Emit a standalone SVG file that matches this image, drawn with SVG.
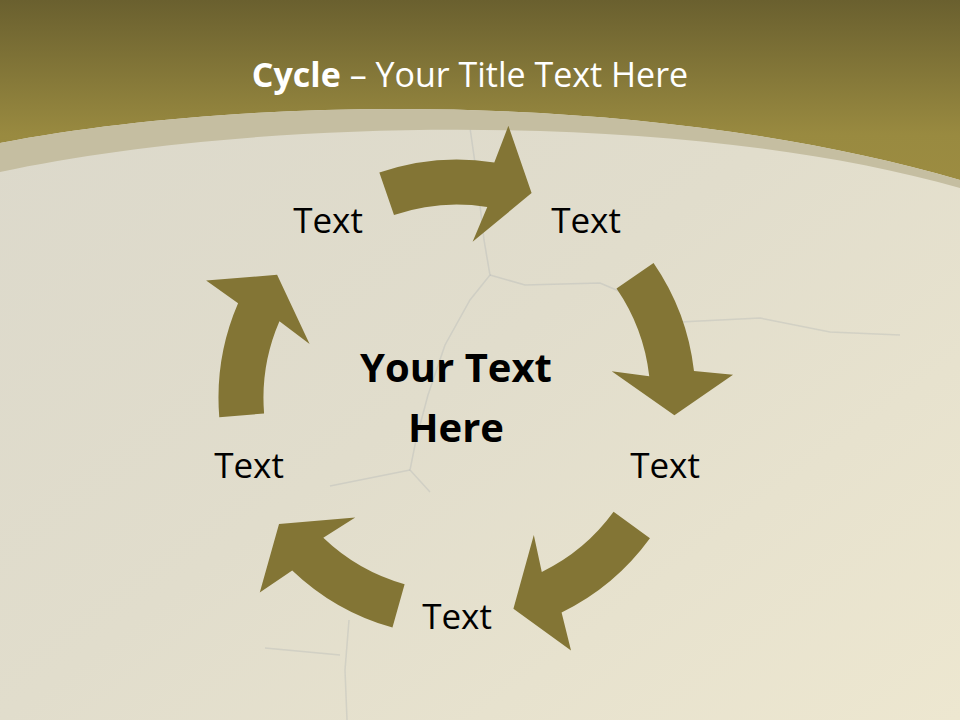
<svg xmlns="http://www.w3.org/2000/svg" width="960" height="720" viewBox="0 0 960 720">
<style>
.lbl{font-family:"Open Sans","Noto Sans",sans-serif;font-size:35px;fill:#000;text-anchor:middle}
.ctr{font-family:"Open Sans","Noto Sans",sans-serif;font-size:40px;font-weight:bold;fill:#000;text-anchor:middle}
.ttl{font-family:"Open Sans","Noto Sans",sans-serif;font-size:34px;fill:#fff;text-anchor:middle}
.arrow{fill:#837535}
.crack{fill:none;stroke:#9aa2ad;stroke-opacity:0.25;stroke-width:1.5}
</style>
<defs>
<linearGradient id="bg" x1="0" y1="0" x2="1" y2="1">
<stop offset="0" stop-color="#dbd8cb"/>
<stop offset="0.5" stop-color="#e1ddcc"/>
<stop offset="1" stop-color="#ede7d0"/>
</linearGradient>
<linearGradient id="hdr" gradientUnits="userSpaceOnUse" x1="0" y1="0" x2="0" y2="180">
<stop offset="0" stop-color="#6a602f"/>
<stop offset="0.75" stop-color="#998a40"/>
<stop offset="1" stop-color="#9c8c41"/>
</linearGradient>
<path id="arw" d="M379.35,172.5 A238.5,238.5 0 0 1 494.3,162.4 L508.4,125.8 L531.6,193.1 L472.6,241.8 L487.3,206.9 A193.5,193.5 0 0 0 394.0,215.0 Z"/>
</defs>
<rect x="0" y="0" width="960" height="720" fill="url(#bg)"/>
<g id="cracks">
<path class="crack" d="M470,128 L476,170 L484,240 L490,275 L470,300 L445,345 L428,395 L416,440 L410,470 L430,492"/>
<path class="crack" d="M490,275 L525,285 L600,283 L640,300"/>
<path class="crack" d="M680,322 L760,318 L830,332 L900,335"/>
<path class="crack" d="M410,470 L370,478 L330,486"/>
<path class="crack" d="M349,620 L345,670 L347,720"/>
<path class="crack" d="M265,648 L340,655"/>
</g>
<path id="header" d="M0,0 H960 V180 C650,90 250,95 0,143 Z" fill="url(#hdr)"/>
<path id="band" d="M0,143 C250,95 650,90 960,180 L960,188 C680,108 250,118 0,172 Z" fill="#c5bea1"/>
<g id="title">
<text class="ttl" x="470" y="87"><tspan font-weight="bold">Cycle</tspan> – Your Title Text Here</text>
</g>
<g id="connectors">
<use href="#arw" class="arrow"/>
<use href="#arw" class="arrow" transform="rotate(74.5 457 398)"/>
<use href="#arw" class="arrow" transform="rotate(145 457 398)"/>
<use href="#arw" class="arrow" transform="rotate(214.7 457 398)"/>
<use href="#arw" class="arrow" transform="rotate(284.4 457 398)"/>
</g>
<g id="node-center"><text class="ctr" x="456" y="382">Your Text</text><text class="ctr" x="456" y="442">Here</text></g>
<g id="node-1"><text class="lbl" x="328" y="233">Text</text></g>
<g id="node-2"><text class="lbl" x="586" y="233">Text</text></g>
<g id="node-3"><text class="lbl" x="665" y="478">Text</text></g>
<g id="node-4"><text class="lbl" x="457" y="629">Text</text></g>
<g id="node-5"><text class="lbl" x="249" y="478">Text</text></g>
</svg>
